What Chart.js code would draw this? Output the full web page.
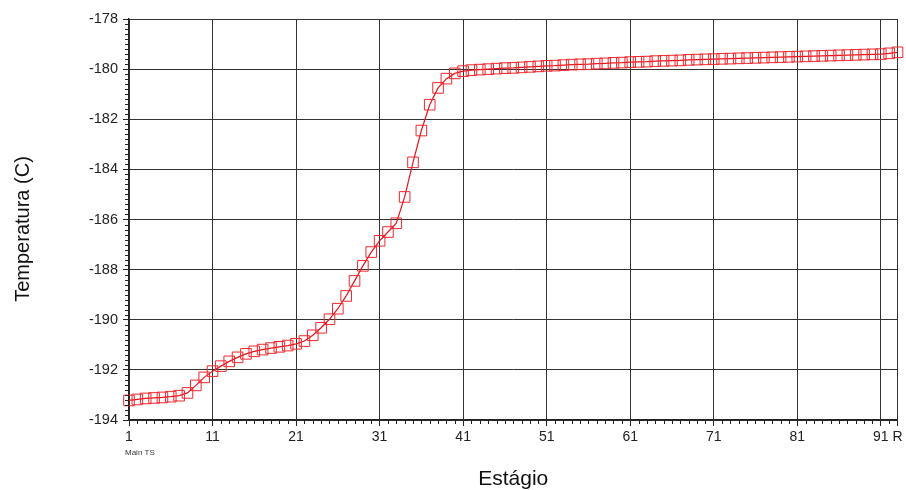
<!DOCTYPE html>
<html>
<head>
<meta charset="utf-8">
<script src="https://cdn.jsdelivr.net/npm/chart.js@4.4.0/dist/chart.umd.min.js"></script>
<style>
  html, body { margin: 0; padding: 0; background: #fff; }
  #wrap { width: 906px; height: 490px; }
</style>
</head>
<body>
<div id="wrap"><canvas id="chart"></canvas></div>
<script>
// perfil de temperatura por estágio (1..92, R = refervedor)
const temps = [
  -193.22, -193.18, -193.14, -193.12, -193.10, -193.07, -193.03, -192.92, -192.62, -192.30,
  -192.05, -191.85, -191.66, -191.50, -191.36, -191.26, -191.19, -191.13, -191.08, -191.03,
  -190.96, -190.85, -190.62, -190.32, -189.98, -189.56, -189.05, -188.45, -187.85, -187.30,
  -186.85, -186.50, -186.15, -185.10, -183.72, -182.45, -181.42, -180.75, -180.38, -180.17,
  -180.08, -180.04, -180.02, -180.00, -179.98, -179.96, -179.95, -179.93, -179.91, -179.89,
  -179.87, -179.86, -179.84, -179.82, -179.81, -179.80, -179.78, -179.77, -179.75, -179.74,
  -179.72, -179.71, -179.70, -179.68, -179.67, -179.66, -179.65, -179.63, -179.62, -179.61,
  -179.60, -179.59, -179.58, -179.57, -179.56, -179.55, -179.54, -179.53, -179.52, -179.51,
  -179.50, -179.49, -179.48, -179.47, -179.46, -179.45, -179.44, -179.43, -179.42, -179.41,
  -179.40, -179.37, -179.33
];
const xTickValues = [1, 11, 21, 31, 41, 51, 61, 71, 81, 91, 93];
const xTickLabels = ['1', '11', '21', '31', '41', '51', '61', '71', '81', '91', 'R'];
const yMin = -194;
const yMax = -178;

const FONT = 'Arial, "Liberation Sans", sans-serif';

// marcas menores dos eixos, rótulo "Main TS" e título do eixo Y
const extras = {
  id: 'extras',
  afterDraw(chart) {
    const { ctx, scales: { x, y } } = chart;
    ctx.save();
    ctx.strokeStyle = '#222';
    ctx.lineWidth = 1;
    ctx.beginPath();
    for (let v = 1; v <= 93; v++) {
      if (xTickValues.includes(v)) continue;
      const px = Math.round(x.getPixelForValue(v)) + 0.5;
      ctx.moveTo(px, y.bottom);
      ctx.lineTo(px, y.bottom + 4);
    }
    for (let i = 0; i <= (yMax - yMin) * 5; i++) {
      if (i % 10 === 0) continue;
      const py = Math.round(y.getPixelForValue(yMin + i * 0.2)) + 0.5;
      ctx.moveTo(x.left - 4, py);
      ctx.lineTo(x.left, py);
    }
    ctx.stroke();
    ctx.fillStyle = '#333';
    ctx.font = '8px ' + FONT;
    ctx.textAlign = 'left';
    ctx.textBaseline = 'middle';
    ctx.fillText('Main TS', x.getPixelForValue(1) - 4, 453);

    ctx.translate(23, 229);
    ctx.rotate(-Math.PI / 2);
    ctx.fillStyle = '#111';
    ctx.font = '20px ' + FONT;
    ctx.textAlign = 'center';
    ctx.fillText('Temperatura (C)', 0, 0);
    ctx.restore();
  }
};

new Chart(document.getElementById('chart'), {
  type: 'line',
  data: {
    datasets: [{
      data: temps.map((t, i) => ({ x: i + 1, y: t })),
      borderColor: '#e8141c',
      borderWidth: 1.2,
      pointStyle: 'rect',
      pointRadius: 7.5,
      pointBorderWidth: 1,
      pointBorderColor: '#f0282e',
      pointBackgroundColor: 'rgba(0,0,0,0)',
      tension: 0,
      clip: false,
    }],
  },
  options: {
    responsive: true,
    maintainAspectRatio: false,
    animation: false,
    layout: { padding: { top: 19, right: 8, left: 0, bottom: 0 } },
    plugins: { legend: { display: false }, tooltip: { enabled: false } },
    scales: {
      x: {
        type: 'linear',
        min: 1,
        max: 93,
        afterBuildTicks: (s) => { s.ticks = xTickValues.map((v) => ({ value: v })); },
        afterFit: (s) => { s.height = 70; },
        ticks: {
          autoSkip: false,
          maxRotation: 0,
          padding: 3,
          color: '#222',
          font: { family: FONT, size: 14 },
          callback: (v, i) => xTickLabels[i],
        },
        grid: { color: '#333', lineWidth: 1, tickLength: 6, tickColor: '#222' },
        border: { color: '#222', width: 1.5 },
        title: {
          display: true,
          text: 'Estágio',
          color: '#111',
          font: { family: FONT, size: 21, lineHeight: 1 },
          padding: { top: 0, bottom: 0 },
        },
      },
      y: {
        min: yMin,
        max: yMax,
        afterFit: (s) => { s.width = 129; },
        ticks: {
          stepSize: 2,
          padding: 5,
          color: '#222',
          font: { family: FONT, size: 14.5 },
        },
        grid: { color: '#333', lineWidth: 1, tickLength: 6, tickColor: '#222' },
        border: { color: '#222', width: 1.5 },
      },
    },
  },
  plugins: [extras],
});
</script>
</body>
</html>
